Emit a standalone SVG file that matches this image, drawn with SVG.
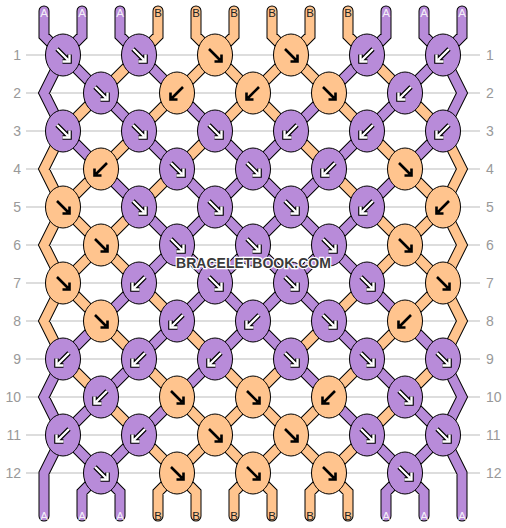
<svg xmlns="http://www.w3.org/2000/svg" width="506" height="528" viewBox="0 0 506 528">
<style>
.bg{fill:#fff}
.gl{stroke:#bbb;stroke-width:1;fill:none}
.num{font-family:"Liberation Sans",Arial,sans-serif;font-size:14px;fill:#999}
.ol{fill:none;stroke:#000;stroke-width:11;stroke-linecap:round;stroke-linejoin:miter}
.sa{fill:none;stroke:#b88bd9;stroke-width:9;stroke-linecap:round;stroke-linejoin:miter}
.sb{fill:none;stroke:#ffc48e;stroke-width:9;stroke-linecap:round;stroke-linejoin:miter}
.p{fill:#b88bd9;stroke:#000;stroke-width:1}
.o{fill:#ffc48e;stroke:#000;stroke-width:1}
.ao{fill:none;stroke:#000;stroke-width:4.6}
.aw{fill:none;stroke:#fff;stroke-width:2.4}
.ab{fill:none;stroke:#000;stroke-width:2.6}
.la{font-family:"Liberation Sans",Arial,sans-serif;font-size:11.5px;fill:#f4f0f8;text-anchor:middle}
.lb{font-family:"Liberation Sans",Arial,sans-serif;font-size:11.5px;fill:#222;text-anchor:middle}
.wm{font-family:"Liberation Sans",Arial,sans-serif;font-size:14px;font-weight:bold;fill:#3a3a3a;stroke:#fff;stroke-width:2.5;paint-order:stroke;text-anchor:middle}
</style>
<defs>
<ellipse id="e" cx="0" cy="0" rx="17.5" ry="21"/>
<path id="ar" d="M-6-6L5 5M6.5-0.5V6.5H-0.5"/>
<g id="fp"><use href="#ar" class="ao"/><use href="#ar" class="aw"/></g>
<g id="bp" transform="scale(-1,1)"><use href="#ar" class="ao"/><use href="#ar" class="aw"/></g>
<g id="fo"><use href="#ar" class="ab"/></g>
<g id="bo" transform="scale(-1,1)"><use href="#ar" class="ab"/></g>
<path id="pa" d="M44 11V36L63 55M82 11V36L63 55M386 11V36L367 55M424 11V36L443 55M462 11V36L443 55M120 11V36L139 55
M63 55l38 38M139 55l38 38M367 55l-38 38M443 55l-38 38M63 55L44 93L63 131M443 55L462 93L443 131
M101 93l38 38M177 93l38 38M329 93l-38 38M405 93l-38 38
M63 131l38 38M139 131l38 38M215 131l38 38M291 131l-38 38M367 131l-38 38M443 131l-38 38
M101 169l38 38M177 169l38 38M253 169l-38 38M253 169l38 38M329 169l-38 38M405 169l-38 38
M139 207l38 38M215 207l-38 38M215 207l38 38M291 207l-38 38M291 207l38 38M367 207l-38 38
M177 245l-38 38M177 245l38 38M253 245l-38 38M253 245l38 38M329 245l-38 38M329 245l38 38
M139 283l-38 38M215 283l-38 38M215 283l38 38M291 283l-38 38M291 283l38 38M367 283l38 38
M101 321l-38 38M177 321l-38 38M253 321l-38 38M253 321l38 38M329 321l38 38M405 321l38 38
M139 359l-38 38M215 359l-38 38M291 359l38 38M367 359l38 38M63 359L44 397L63 435M443 359L462 397L443 435
M101 397l-38 38M177 397l-38 38M329 397l38 38M405 397l38 38
M63 435l38 38M139 435l-38 38M367 435l38 38M443 435l-38 38M63 435L44 473V516M443 435L462 473V516
M101 473L82 492V516M101 473L120 492V516M405 473L386 492V516M405 473L424 492V516"/>
<path id="pb" d="M158 11V36L139 55M196 11V36L215 55M234 11V36L215 55M272 11V36L291 55M310 11V36L291 55M348 11V36L367 55
M139 55l-38 38M215 55l-38 38M215 55l38 38M291 55l-38 38M291 55l38 38M367 55l38 38
M101 93l-38 38M177 93l-38 38M253 93l-38 38M253 93l38 38M329 93l38 38M405 93l38 38
M139 131l-38 38M215 131l-38 38M291 131l38 38M367 131l38 38M63 131L44 169L63 207M443 131L462 169L443 207
M101 169l-38 38M177 169l-38 38M329 169l38 38M405 169l38 38
M63 207l38 38M139 207l-38 38M367 207l38 38M443 207l-38 38M63 207L44 245L63 283M443 207L462 245L443 283
M101 245l-38 38M101 245l38 38M405 245l-38 38M405 245l38 38
M63 283l38 38M139 283l38 38M367 283l-38 38M443 283l-38 38M63 283L44 321L63 359M443 283L462 321L443 359
M101 321l38 38M177 321l38 38M329 321l-38 38M405 321l-38 38
M63 359l38 38M139 359l38 38M215 359l38 38M291 359l-38 38M367 359l-38 38M443 359l-38 38
M101 397l38 38M177 397l38 38M253 397l-38 38M253 397l38 38M329 397l-38 38M405 397l-38 38
M139 435l38 38M215 435l-38 38M215 435l38 38M291 435l-38 38M291 435l38 38M367 435l-38 38
M177 473L158 492V516M177 473L196 492V516M253 473L234 492V516M253 473L272 492V516M329 473L310 492V516M329 473L348 492V516"/>
</defs>
<rect class="bg" x="0" y="0" width="506" height="528"/>
<g id="grid">
<path class="gl" d="M26 55H480M26 93H480M26 131H480M26 169H480M26 207H480M26 245H480M26 283H480M26 321H480M26 359H480M26 397H480M26 435H480M26 473H480"/>
<g class="num" text-anchor="end">
<text x="21" y="60">1</text><text x="21" y="98">2</text><text x="21" y="136">3</text><text x="21" y="174">4</text><text x="21" y="212">5</text><text x="21" y="250">6</text><text x="21" y="288">7</text><text x="21" y="326">8</text><text x="21" y="364">9</text><text x="21" y="402">10</text><text x="21" y="440">11</text><text x="21" y="478">12</text>
</g>
<g class="num" text-anchor="start">
<text x="486" y="60">1</text><text x="486" y="98">2</text><text x="486" y="136">3</text><text x="486" y="174">4</text><text x="486" y="212">5</text><text x="486" y="250">6</text><text x="486" y="288">7</text><text x="486" y="326">8</text><text x="486" y="364">9</text><text x="486" y="402">10</text><text x="486" y="440">11</text><text x="486" y="478">12</text>
</g>
</g>
<g id="connectors">
<use href="#pa" class="ol"/>
<use href="#pb" class="ol"/>
<use href="#pa" class="sa"/>
<use href="#pb" class="sb"/>
</g>
<g id="strand-labels">
<text class="la" x="44" y="16.5">A</text><text class="la" x="82" y="16.5">A</text><text class="la" x="120" y="16.5">A</text><text class="lb" x="158" y="16.5">B</text><text class="lb" x="196" y="16.5">B</text><text class="lb" x="234" y="16.5">B</text><text class="lb" x="272" y="16.5">B</text><text class="lb" x="310" y="16.5">B</text><text class="lb" x="348" y="16.5">B</text><text class="la" x="386" y="16.5">A</text><text class="la" x="424" y="16.5">A</text><text class="la" x="462" y="16.5">A</text>
<text class="la" x="44" y="520">A</text><text class="la" x="82" y="520">A</text><text class="la" x="120" y="520">A</text><text class="lb" x="158" y="520">B</text><text class="lb" x="196" y="520">B</text><text class="lb" x="234" y="520">B</text><text class="lb" x="272" y="520">B</text><text class="lb" x="310" y="520">B</text><text class="lb" x="348" y="520">B</text><text class="la" x="386" y="520">A</text><text class="la" x="424" y="520">A</text><text class="la" x="462" y="520">A</text>
</g>
<g id="knots">
<g id="k1-1"><use href="#e" class="p" x="63" y="55"/><use href="#fp" x="63" y="55"/></g>
<g id="k1-2"><use href="#e" class="p" x="139" y="55"/><use href="#fp" x="139" y="55"/></g>
<g id="k1-3"><use href="#e" class="o" x="215" y="55"/><use href="#fo" x="215" y="55"/></g>
<g id="k1-4"><use href="#e" class="o" x="291" y="55"/><use href="#fo" x="291" y="55"/></g>
<g id="k1-5"><use href="#e" class="p" x="367" y="55"/><use href="#bp" x="367" y="55"/></g>
<g id="k1-6"><use href="#e" class="p" x="443" y="55"/><use href="#bp" x="443" y="55"/></g>
<g id="k2-1"><use href="#e" class="p" x="101" y="93"/><use href="#fp" x="101" y="93"/></g>
<g id="k2-2"><use href="#e" class="o" x="177" y="93"/><use href="#bo" x="177" y="93"/></g>
<g id="k2-3"><use href="#e" class="o" x="253" y="93"/><use href="#bo" x="253" y="93"/></g>
<g id="k2-4"><use href="#e" class="o" x="329" y="93"/><use href="#fo" x="329" y="93"/></g>
<g id="k2-5"><use href="#e" class="p" x="405" y="93"/><use href="#bp" x="405" y="93"/></g>
<g id="k3-1"><use href="#e" class="p" x="63" y="131"/><use href="#fp" x="63" y="131"/></g>
<g id="k3-2"><use href="#e" class="p" x="139" y="131"/><use href="#fp" x="139" y="131"/></g>
<g id="k3-3"><use href="#e" class="p" x="215" y="131"/><use href="#fp" x="215" y="131"/></g>
<g id="k3-4"><use href="#e" class="p" x="291" y="131"/><use href="#bp" x="291" y="131"/></g>
<g id="k3-5"><use href="#e" class="p" x="367" y="131"/><use href="#bp" x="367" y="131"/></g>
<g id="k3-6"><use href="#e" class="p" x="443" y="131"/><use href="#bp" x="443" y="131"/></g>
<g id="k4-1"><use href="#e" class="o" x="101" y="169"/><use href="#bo" x="101" y="169"/></g>
<g id="k4-2"><use href="#e" class="p" x="177" y="169"/><use href="#fp" x="177" y="169"/></g>
<g id="k4-3"><use href="#e" class="p" x="253" y="169"/><use href="#fp" x="253" y="169"/></g>
<g id="k4-4"><use href="#e" class="p" x="329" y="169"/><use href="#bp" x="329" y="169"/></g>
<g id="k4-5"><use href="#e" class="o" x="405" y="169"/><use href="#fo" x="405" y="169"/></g>
<g id="k5-1"><use href="#e" class="o" x="63" y="207"/><use href="#fo" x="63" y="207"/></g>
<g id="k5-2"><use href="#e" class="p" x="139" y="207"/><use href="#fp" x="139" y="207"/></g>
<g id="k5-3"><use href="#e" class="p" x="215" y="207"/><use href="#fp" x="215" y="207"/></g>
<g id="k5-4"><use href="#e" class="p" x="291" y="207"/><use href="#fp" x="291" y="207"/></g>
<g id="k5-5"><use href="#e" class="p" x="367" y="207"/><use href="#bp" x="367" y="207"/></g>
<g id="k5-6"><use href="#e" class="o" x="443" y="207"/><use href="#bo" x="443" y="207"/></g>
<g id="k6-1"><use href="#e" class="o" x="101" y="245"/><use href="#fo" x="101" y="245"/></g>
<g id="k6-2"><use href="#e" class="p" x="177" y="245"/><use href="#fp" x="177" y="245"/></g>
<g id="k6-3"><use href="#e" class="p" x="253" y="245"/><use href="#fp" x="253" y="245"/></g>
<g id="k6-4"><use href="#e" class="p" x="329" y="245"/><use href="#fp" x="329" y="245"/></g>
<g id="k6-5"><use href="#e" class="o" x="405" y="245"/><use href="#fo" x="405" y="245"/></g>
<g id="k7-1"><use href="#e" class="o" x="63" y="283"/><use href="#fo" x="63" y="283"/></g>
<g id="k7-2"><use href="#e" class="p" x="139" y="283"/><use href="#bp" x="139" y="283"/></g>
<g id="k7-3"><use href="#e" class="p" x="215" y="283"/><use href="#fp" x="215" y="283"/></g>
<g id="k7-4"><use href="#e" class="p" x="291" y="283"/><use href="#fp" x="291" y="283"/></g>
<g id="k7-5"><use href="#e" class="p" x="367" y="283"/><use href="#fp" x="367" y="283"/></g>
<g id="k7-6"><use href="#e" class="o" x="443" y="283"/><use href="#fo" x="443" y="283"/></g>
<g id="k8-1"><use href="#e" class="o" x="101" y="321"/><use href="#fo" x="101" y="321"/></g>
<g id="k8-2"><use href="#e" class="p" x="177" y="321"/><use href="#bp" x="177" y="321"/></g>
<g id="k8-3"><use href="#e" class="p" x="253" y="321"/><use href="#bp" x="253" y="321"/></g>
<g id="k8-4"><use href="#e" class="p" x="329" y="321"/><use href="#fp" x="329" y="321"/></g>
<g id="k8-5"><use href="#e" class="o" x="405" y="321"/><use href="#bo" x="405" y="321"/></g>
<g id="k9-1"><use href="#e" class="p" x="63" y="359"/><use href="#bp" x="63" y="359"/></g>
<g id="k9-2"><use href="#e" class="p" x="139" y="359"/><use href="#bp" x="139" y="359"/></g>
<g id="k9-3"><use href="#e" class="p" x="215" y="359"/><use href="#bp" x="215" y="359"/></g>
<g id="k9-4"><use href="#e" class="p" x="291" y="359"/><use href="#fp" x="291" y="359"/></g>
<g id="k9-5"><use href="#e" class="p" x="367" y="359"/><use href="#fp" x="367" y="359"/></g>
<g id="k9-6"><use href="#e" class="p" x="443" y="359"/><use href="#fp" x="443" y="359"/></g>
<g id="k10-1"><use href="#e" class="p" x="101" y="397"/><use href="#bp" x="101" y="397"/></g>
<g id="k10-2"><use href="#e" class="o" x="177" y="397"/><use href="#fo" x="177" y="397"/></g>
<g id="k10-3"><use href="#e" class="o" x="253" y="397"/><use href="#fo" x="253" y="397"/></g>
<g id="k10-4"><use href="#e" class="o" x="329" y="397"/><use href="#bo" x="329" y="397"/></g>
<g id="k10-5"><use href="#e" class="p" x="405" y="397"/><use href="#fp" x="405" y="397"/></g>
<g id="k11-1"><use href="#e" class="p" x="63" y="435"/><use href="#bp" x="63" y="435"/></g>
<g id="k11-2"><use href="#e" class="p" x="139" y="435"/><use href="#bp" x="139" y="435"/></g>
<g id="k11-3"><use href="#e" class="o" x="215" y="435"/><use href="#fo" x="215" y="435"/></g>
<g id="k11-4"><use href="#e" class="o" x="291" y="435"/><use href="#fo" x="291" y="435"/></g>
<g id="k11-5"><use href="#e" class="p" x="367" y="435"/><use href="#fp" x="367" y="435"/></g>
<g id="k11-6"><use href="#e" class="p" x="443" y="435"/><use href="#fp" x="443" y="435"/></g>
<g id="k12-1"><use href="#e" class="p" x="101" y="473"/><use href="#fp" x="101" y="473"/></g>
<g id="k12-2"><use href="#e" class="o" x="177" y="473"/><use href="#fo" x="177" y="473"/></g>
<g id="k12-3"><use href="#e" class="o" x="253" y="473"/><use href="#fo" x="253" y="473"/></g>
<g id="k12-4"><use href="#e" class="o" x="329" y="473"/><use href="#fo" x="329" y="473"/></g>
<g id="k12-5"><use href="#e" class="p" x="405" y="473"/><use href="#fp" x="405" y="473"/></g>
</g>
<text class="wm" x="253.5" y="268">BRACELETBOOK.COM</text>
</svg>
